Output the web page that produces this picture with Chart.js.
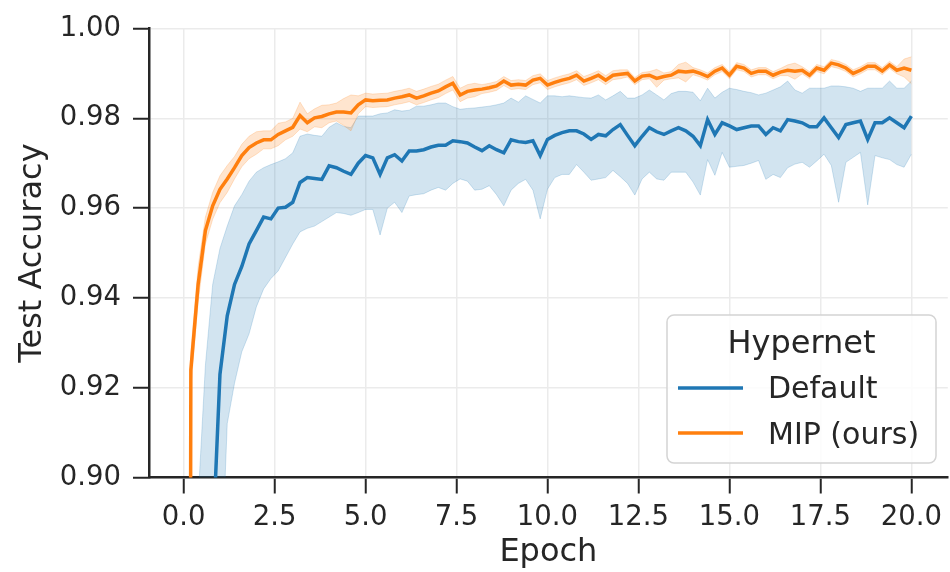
<!DOCTYPE html>
<html>
<head>
<meta charset="utf-8">
<script src="https://cdn.jsdelivr.net/npm/chart.js@4.4.1/dist/chart.umd.min.js"></script>
<style>
html,body{margin:0;padding:0;background:#fff;}
#wrap{width:950px;height:572px;}
</style>
</head>
<body>
<div id="wrap"><canvas id="c" width="950" height="572"></canvas></div>
<script>
// ---------------- data ----------------
const epochs = [0,0.2,0.4,0.6,0.8,1,1.2,1.4,1.6,1.8,
 2,2.2,2.4,2.6,2.8,3,3.2,3.4,3.6,3.8,
 4,4.2,4.4,4.6,4.8,5,5.2,5.4,5.6,5.8,
 6,6.2,6.4,6.6,6.8,7,7.2,7.4,7.6,7.8,
 8,8.2,8.4,8.6,8.8,9,9.2,9.4,9.6,9.8,
 10,10.2,10.4,10.6,10.8,11,11.2,11.4,11.6,11.8,
 12,12.2,12.4,12.6,12.8,13,13.2,13.4,13.6,13.8,
 14,14.2,14.4,14.6,14.8,15,15.2,15.4,15.6,15.8,
 16,16.2,16.4,16.6,16.8,17,17.2,17.4,17.6,17.8,
 18,18.2,18.4,18.6,18.8,19,19.2,19.4,19.6,19.8,
 20];

const defaultMean = [0.100,0.600,0.750,0.830,0.885,0.923,0.936,0.943,0.947,0.952,
 0.955,0.958,0.9576,0.9600,0.9602,0.9613,0.9657,0.9668,0.9666,0.9664,
 0.9694,0.9690,0.9682,0.9675,0.9700,0.9717,0.9712,0.9675,0.9712,0.9719,
 0.9705,0.9727,0.9727,0.9730,0.9736,0.9740,0.9740,0.9750,0.9748,0.9745,
 0.9736,0.9728,0.9739,0.9730,0.9723,0.9752,0.9748,0.9746,0.9750,0.9717,
 0.9753,0.9762,0.9768,0.9772,0.9772,0.9765,0.9753,0.9764,0.9761,0.9775,
 0.9786,0.9762,0.9739,0.9760,0.9779,0.9770,0.9764,0.9772,0.9779,0.9772,
 0.9760,0.9739,0.9797,0.9764,0.9790,0.9783,0.9775,0.9779,0.9783,0.9783,
 0.9764,0.9779,0.9772,0.9797,0.9794,0.9790,0.9781,0.9781,0.9801,0.9779,
 0.9757,0.9786,0.9790,0.9794,0.9753,0.9790,0.9790,0.9801,0.9790,0.9779,
 0.9805];

const defaultLower = [0.050,0.400,0.600,0.720,0.800,0.870,0.912,0.921,0.928,0.932,
 0.938,0.942,0.9443,0.946,0.949,0.952,0.9547,0.9555,0.956,0.957,
 0.958,0.959,0.9588,0.9584,0.959,0.9597,0.9597,0.954,0.960,0.9613,
 0.959,0.9627,0.963,0.9632,0.964,0.9646,0.964,0.9655,0.9665,0.966,
 0.964,0.9642,0.965,0.963,0.9605,0.964,0.9655,0.9664,0.964,0.9576,
 0.9642,0.9668,0.9675,0.9675,0.9697,0.968,0.9662,0.9665,0.9668,0.9684,
 0.967,0.9655,0.9629,0.9665,0.968,0.9665,0.9662,0.968,0.968,0.968,
 0.9658,0.9629,0.9708,0.9673,0.9724,0.9691,0.9693,0.9695,0.970,0.9706,
 0.9664,0.9675,0.9668,0.969,0.9698,0.9702,0.9691,0.9705,0.972,0.9695,
 0.9613,0.9702,0.9713,0.9724,0.9607,0.9717,0.9712,0.9708,0.9697,0.9691,
 0.972];

const defaultUpper = [0.300,0.750,0.895,0.925,0.943,0.951,0.956,0.9605,0.963,0.966,
 0.968,0.969,0.9697,0.9703,0.971,0.9723,0.976,0.9765,0.9762,0.976,
 0.978,0.979,0.9782,0.9779,0.9805,0.9805,0.9805,0.981,0.9812,0.9819,
 0.9816,0.9818,0.9827,0.9827,0.983,0.9834,0.9834,0.9826,0.982,0.9822,
 0.9823,0.9825,0.9827,0.983,0.9834,0.9845,0.9836,0.985,0.9842,0.9834,
 0.985,0.985,0.9848,0.985,0.9848,0.9846,0.9845,0.9852,0.9841,0.985,
 0.986,0.9845,0.9845,0.9852,0.9863,0.9852,0.9841,0.9855,0.986,0.986,
 0.9858,0.9839,0.9867,0.9845,0.9858,0.9867,0.9864,0.986,0.9857,0.9852,
 0.9856,0.9863,0.987,0.9883,0.9863,0.9856,0.9867,0.9867,0.9867,0.9872,
 0.9872,0.987,0.9867,0.986,0.9867,0.9867,0.9867,0.9883,0.9867,0.9867,
 0.9883];

const mipMean = [0.100,0.924,0.943,0.955,0.9605,0.9642,0.9665,0.969,0.9717,0.9735,
 0.9745,0.9752,0.9752,0.9764,0.9772,0.978,0.9806,0.979,0.9801,0.9804,
 0.981,0.9814,0.9814,0.9812,0.983,0.9841,0.9839,0.984,0.9841,0.9845,
 0.9848,0.9852,0.9845,0.985,0.9856,0.9861,0.987,0.9878,0.9852,0.986,
 0.9863,0.9865,0.9868,0.9872,0.9883,0.9874,0.9876,0.9874,0.9885,0.9889,
 0.9874,0.988,0.9885,0.9889,0.9896,0.9883,0.9889,0.9896,0.9885,0.9896,
 0.9898,0.99,0.9883,0.9894,0.9896,0.9889,0.9893,0.9896,0.9905,0.9903,
 0.9905,0.99,0.9893,0.9905,0.9912,0.9896,0.9916,0.9912,0.99,0.9905,
 0.9905,0.9896,0.9903,0.9907,0.9905,0.9907,0.9896,0.9912,0.9907,0.9923,
 0.9919,0.9912,0.99,0.9907,0.9916,0.9916,0.9905,0.9919,0.9907,0.9912,
 0.9907];

// half-width of the MIP confidence band
const mipSpread = [0.004,0.004,0.004,0.003,0.003,0.003,0.003,0.0025,0.0025,0.0025,
 0.0025,0.002,0.002,0.0025,0.002,0.002,0.003,0.002,0.002,0.0025,
 0.002,0.002,0.003,0.004,0.002,0.0015,0.0015,0.0015,0.0015,0.0015,
 0.0015,0.0015,0.0015,0.0015,0.0015,0.0015,0.0015,0.0015,0.0015,0.0015,
 0.0015,0.001,0.001,0.001,0.001,0.001,0.001,0.001,0.001,0.001,
 0.001,0.001,0.001,0.001,0.001,0.001,0.001,0.001,0.001,0.001,
 0.001,0.0008,0.0008,0.0008,0.0008,0.002,0.0008,0.0008,0.0015,0.0022,
 0.0008,0.0008,0.0008,0.0008,0.0008,0.0008,0.0008,0.0008,0.0008,0.0008,
 0.0008,0.0008,0.0008,0.0012,0.0018,0.0008,0.0008,0.0008,0.0008,0.0008,
 0.0008,0.0008,0.0008,0.0008,0.0008,0.0008,0.0008,0.0008,0.0008,0.002,
 0.003];

const xTicks = [0,2.5,5,7.5,10,12.5,15,17.5,20];
const yTicks = [0.90,0.92,0.94,0.96,0.98,1.00];
const seriesNames = ['Default','MIP (ours)'];
const legendTitle = 'Hypernet';
const xTitle = 'Epoch';
const yTitle = 'Test Accuracy';

// ---------------- styling ----------------
const INK = '#262626';
const FAM = "'DejaVu Sans', 'Liberation Sans', sans-serif";
const BLUE = '#1f77b4', ORANGE = '#ff7f0e';
const BLUE_BAND = 'rgba(31,119,180,0.2)', ORANGE_BAND = 'rgba(255,127,14,0.2)';

const pts = arr => arr.map((v, i) => ({x: epochs[i], y: v}));
const mipUpper = mipMean.map((v, i) => v + mipSpread[i]);
const mipLower = mipMean.map((v, i) => v - mipSpread[i]);

const lineBase = {pointRadius: 0, tension: 0, clip: 0};

const legendPlugin = {
  id: 'boxLegend',
  afterDraw(chart) {
    const ctx = chart.ctx;
    ctx.save();
    const bx = 667, by = 315, bw = 269, bh = 148;
    ctx.beginPath();
    ctx.roundRect(bx, by, bw, bh, 7);
    ctx.fillStyle = 'rgba(255,255,255,0.85)';
    ctx.fill();
    ctx.strokeStyle = '#d4d4d4';
    ctx.lineWidth = 1.5;
    ctx.stroke();

    ctx.fillStyle = INK;
    ctx.textBaseline = 'alphabetic';
    ctx.textAlign = 'center';
    ctx.font = "32px " + FAM;
    ctx.fillText(legendTitle, bx + bw / 2, 353);

    const rows = [{y: 388, base: 398, c: BLUE}, {y: 433, base: 444, c: ORANGE}];
    ctx.textAlign = 'left';
    ctx.font = "30px " + FAM;
    rows.forEach((r, i) => {
      ctx.beginPath();
      ctx.moveTo(678, r.y);
      ctx.lineTo(743, r.y);
      ctx.strokeStyle = r.c;
      ctx.lineWidth = 3.5;
      ctx.stroke();
      ctx.fillStyle = INK;
      ctx.fillText(seriesNames[i], 768, r.base);
    });
    ctx.restore();
  }
};

new Chart(document.getElementById('c'), {
  type: 'line',
  data: {
    datasets: [
      Object.assign({label: seriesNames[1], data: pts(mipMean), borderColor: ORANGE, borderWidth: 3.5, fill: false, order: 0}, lineBase),
      Object.assign({label: 'mipLower', data: pts(mipLower), borderColor: ORANGE_BAND, borderWidth: 1, fill: false, order: 1}, lineBase),
      Object.assign({label: 'mipUpper', data: pts(mipUpper), borderColor: ORANGE_BAND, borderWidth: 1, fill: 1, backgroundColor: ORANGE_BAND, order: 1}, lineBase),
      Object.assign({label: seriesNames[0], data: pts(defaultMean), borderColor: BLUE, borderWidth: 3.5, fill: false, order: 2}, lineBase),
      Object.assign({label: 'defLower', data: pts(defaultLower), borderColor: BLUE_BAND, borderWidth: 1, fill: false, order: 3}, lineBase),
      Object.assign({label: 'defUpper', data: pts(defaultUpper), borderColor: BLUE_BAND, borderWidth: 1, fill: 4, backgroundColor: BLUE_BAND, order: 3}, lineBase)
    ]
  },
  options: {
    responsive: false,
    animation: false,
    layout: {padding: {top: 25, left: 0, right: 0, bottom: 0}},
    plugins: {legend: {display: false}, tooltip: {enabled: false}},
    scales: {
      x: {
        type: 'linear', min: -0.95, max: 21,
        afterBuildTicks: s => { s.ticks = xTicks.map(v => ({value: v})); },
        afterFit: s => { s.height = 94.5; },
        grid: {color: '#ebebeb', lineWidth: 1.5, drawTicks: true, tickLength: 16, tickColor: INK, tickWidth: 2},
        border: {display: true, color: INK, width: 2.5},
        ticks: {color: INK, font: {family: FAM, size: 27.5}, padding: 8, maxRotation: 0, autoSkip: false,
                callback: v => Number(v).toFixed(1)},
        title: {display: true, text: xTitle, color: INK, font: {family: FAM, size: 32}, padding: {top: 0, bottom: 0}}
      },
      y: {
        type: 'linear', min: 0.90, max: 1.00,
        afterBuildTicks: s => { s.ticks = yTicks.map(v => ({value: v})); },
        afterFit: s => { s.width = 149; },
        grid: {color: '#ebebeb', lineWidth: 1.5, drawTicks: true, tickLength: 16, tickColor: INK, tickWidth: 2},
        border: {display: true, color: INK, width: 2.5},
        ticks: {color: INK, font: {family: FAM, size: 27.5}, padding: 12, autoSkip: false,
                callback: v => Number(v).toFixed(2)},
        title: {display: true, text: yTitle, color: INK, font: {family: FAM, size: 32}, padding: {top: 13, bottom: 0}}
      }
    }
  },
  plugins: [legendPlugin]
});
</script>
</body>
</html>
